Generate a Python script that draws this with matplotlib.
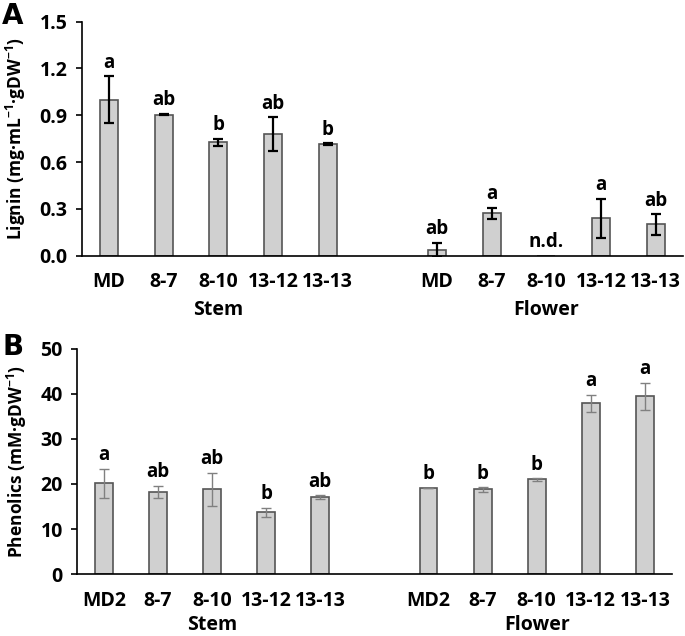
import numpy as np
import matplotlib
matplotlib.use("Agg")
import matplotlib.pyplot as plt

plt.rcParams['font.family'] = ['Open Sans', 'DejaVu Sans']
plt.rcParams['font.weight'] = 'bold'
plt.rcParams['mathtext.fontset'] = 'custom'
plt.rcParams['mathtext.rm'] = 'Open Sans:bold'
plt.rcParams['mathtext.bf'] = 'Open Sans:bold'

# panel A - lignin
lignin_labels = ["MD", "8-7", "8-10", "13-12", "13-13"]
lignin_stem = [1.0, 0.904, 0.727, 0.778, 0.716]
lignin_stem_err = [0.15, 0.005, 0.022, 0.109, 0.005]
lignin_stem_sig = ["a", "ab", "b", "ab", "b"]
lignin_flower = [0.037, 0.272, 0.0, 0.24, 0.20]
lignin_flower_err = [0.045, 0.035, 0.0, 0.125, 0.065]
lignin_flower_sig = ["ab", "a", "n.d.", "a", "ab"]

# panel B - phenolics
phen_labels = ["MD2", "8-7", "8-10", "13-12", "13-13"]
phen_stem = [20.2, 18.2, 18.8, 13.7, 17.1]
phen_stem_err = [3.2, 1.4, 3.7, 1.0, 0.4]
phen_stem_sig = ["a", "ab", "ab", "b", "ab"]
phen_flower = [19.1, 18.8, 21.0, 37.9, 39.4]
phen_flower_err = [0.05, 0.5, 0.3, 1.9, 3.0]
phen_flower_sig = ["b", "b", "b", "a", "a"]

bar_face = "#d0d0d0"
bar_edge = "#555555"
FS = 14


def draw_panel(ax, labels, stem, stem_err, stem_sig, flower, flower_err, flower_sig,
               ymax, ystep, yfmt, ylabel, err_color, err_lw, group_off):
    x_stem = np.arange(len(stem))
    x_flower = np.arange(len(flower)) + len(stem) + 1
    xs = np.concatenate([x_stem, x_flower])
    vals = np.array(stem + flower)
    errs = np.array(stem_err + flower_err)
    sigs = stem_sig + flower_sig

    ax.bar(xs, vals, width=0.33, color=bar_face, edgecolor=bar_edge, linewidth=1.2, zorder=2)
    mask = errs > 0
    ax.errorbar(xs[mask], vals[mask], yerr=errs[mask], fmt='none', ecolor=err_color,
                elinewidth=err_lw, capsize=3.5, capthick=err_lw, zorder=3)
    for x, v, e, s in zip(xs, vals, errs, sigs):
        ax.annotate(s, (x, v + e), xytext=(0, 2.5), textcoords='offset points',
                    ha='center', va='bottom', fontsize=FS - 0.5, fontweight='bold')

    ax.set_xlim(-0.5, xs[-1] + 0.5)
    ax.set_ylim(0, ymax)
    ticks = np.arange(0, ymax + ystep / 2, ystep)
    ax.set_yticks(ticks)
    ax.set_yticklabels([yfmt.format(t) for t in ticks], fontsize=FS, fontweight='bold')
    ax.set_xticks(xs)
    ax.set_xticklabels(labels + labels, fontsize=FS, fontweight='bold')
    ax.tick_params(axis='x', length=0, pad=12)
    ax.tick_params(axis='y', length=4, width=1.2, direction='out', pad=6)
    for side in ['top', 'right']:
        ax.spines[side].set_visible(False)
    for side in ['left', 'bottom']:
        ax.spines[side].set_linewidth(1.2)
    ax.set_ylabel(ylabel, fontsize=12.5, fontweight='bold', labelpad=8)
    for xc, name in [(np.mean(x_stem), "Stem"), (np.mean(x_flower), "Flower")]:
        ax.annotate(name, (xc, 0), xycoords=('data', 'axes fraction'),
                    xytext=(0, group_off), textcoords='offset points',
                    ha='center', va='center', fontsize=FS, fontweight='bold')


fig = plt.figure(figsize=(6.85, 6.36), dpi=100)
ax_a = fig.add_axes([0.119, 0.598, 0.878, 0.368])
ax_b = fig.add_axes([0.112, 0.097, 0.869, 0.355])

draw_panel(ax_a, lignin_labels, lignin_stem, lignin_stem_err, lignin_stem_sig,
           lignin_flower, lignin_flower_err, lignin_flower_sig,
           1.5, 0.3, "{:.1f}", "Lignin (mg·mL$^{\\mathrm{-1}}$·gDW$^{\\mathrm{-1}}$)", "black", 1.6, -39)
draw_panel(ax_b, phen_labels, phen_stem, phen_stem_err, phen_stem_sig,
           phen_flower, phen_flower_err, phen_flower_sig,
           50, 10, "{:.0f}", "Phenolics (mM·gDW$^{\\mathrm{-1}}$)", "#808080", 1.0, -36.5)

fig.text(0.003, 0.975, "A", fontsize=20, fontweight='bold', family='DejaVu Sans', va='center')
fig.text(0.003, 0.455, "B", fontsize=20, fontweight='bold', family='DejaVu Sans', va='center')

fig.savefig("out.png", dpi=100)
